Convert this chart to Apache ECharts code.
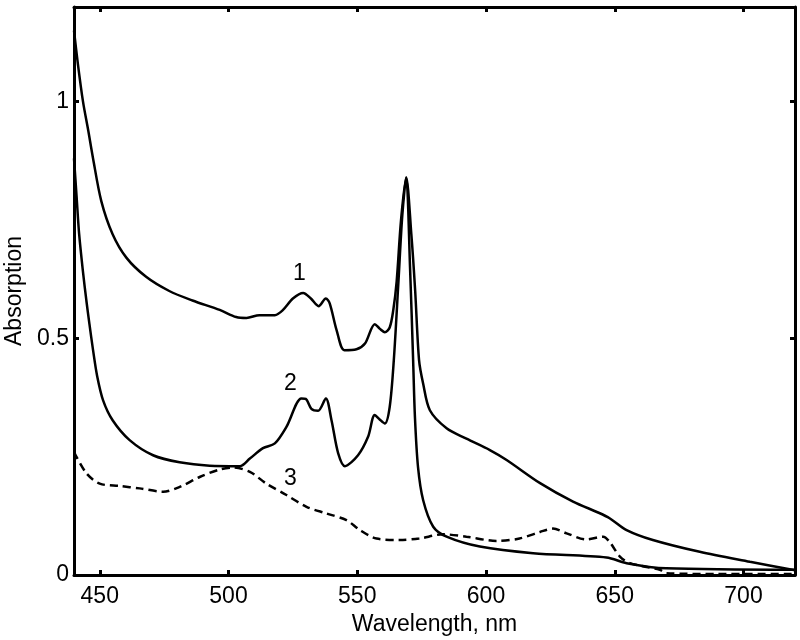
<!DOCTYPE html>
<html>
<head>
<meta charset="utf-8">
<script src="https://cdn.jsdelivr.net/npm/echarts@6/dist/echarts.min.js"></script>
<style>html,body{margin:0;padding:0;background:#fff;}#c{width:800px;height:640px;}</style>
</head>
<body>
<div id="c"></div>
<script>
// Curve 1 (upper solid)
const curve1X = [440,441.5,443.5,445.5,447.4,450.6,455,460.4,468,477,486,496.6,503,507,512,518,521,525,529,532,535,537.8,539.3,542,545,549.7,553,556.8,558.8,560.7,562.6,564,565.3,567,569,571,572.5,574,575.6,578.2,584.7,592.4,601.5,608,621,633.8,644,648,654.6,664.8,683,702.5,720];
const curve1Y = [1.15,1.08,1.0,0.94,0.88,0.79,0.72,0.67,0.63,0.60,0.58,0.56,0.545,0.543,0.549,0.549,0.559,0.584,0.596,0.584,0.568,0.584,0.574,0.517,0.475,0.477,0.489,0.53,0.52,0.513,0.523,0.56,0.62,0.75,0.84,0.72,0.60,0.454,0.404,0.348,0.31,0.288,0.264,0.243,0.194,0.155,0.131,0.12,0.095,0.074,0.049,0.028,0.01];
// Curve 2 (lower solid)
const curve2X = [440,441,442,443.5,444.8,446,447.4,449,451.3,455,461.6,470.7,481,492.7,504.4,508.3,513.4,518,522.5,528.3,530,532.2,534.8,537.8,540,542.6,545.2,550.3,554.2,556.8,558.8,560.7,562.6,564.2,566,567.5,569,570.5,571.7,572.4,573.6,575.6,579.5,584.7,597.6,618.3,646.8,654.6,670,720];
const curve2Y = [0.88,0.80,0.72,0.64,0.58,0.53,0.475,0.42,0.369,0.327,0.285,0.253,0.238,0.231,0.230,0.246,0.268,0.278,0.313,0.373,0.372,0.351,0.347,0.373,0.327,0.257,0.23,0.253,0.292,0.338,0.328,0.32,0.355,0.454,0.62,0.76,0.84,0.65,0.454,0.334,0.228,0.158,0.102,0.081,0.06,0.046,0.037,0.025,0.014,0.011];
// Curve 3 (dashed)
const curve3X = [440,444.8,450,457.8,465.5,474.6,481,488.8,496.6,501.8,508.3,514.7,522.5,530.3,538,545.8,551,557.5,566.5,574,583.4,592.4,604,613,621,626,631.3,639,645.5,648,652,655.9,667.5,670,690,720];
const curve3Y = [0.26,0.215,0.193,0.188,0.183,0.176,0.186,0.207,0.223,0.227,0.218,0.193,0.169,0.144,0.13,0.116,0.095,0.077,0.074,0.077,0.086,0.081,0.072,0.077,0.091,0.098,0.088,0.075,0.081,0.07,0.039,0.025,0.011,0.004,0.002,0.002];
// Tick values
const xTicks = [450,500,550,600,650,700];
const yTicks = [0,0.5,1];
// Curve labels
const curveLabels = ['1','2','3'];
const labelX = [527.5,524,524];
const labelY = [0.636,0.404,0.204];

const pairs = (xs, ys) => xs.map((x, i) => [x, ys[i]]);
const FONT = 'Liberation Sans, Arial, Helvetica, sans-serif';
const ink = '#000';

const baseX = {
  type: 'value', min: 440, max: 720,
  axisLine: {show: true, onZero: false, lineStyle: {color: ink, width: 3}},
  axisTick: {show: true, inside: true, length: 5, lineStyle: {color: ink, width: 3}, customValues: xTicks},
  splitLine: {show: false}
};
const baseY = {
  type: 'value', min: 0, max: 1.2,
  axisLine: {show: true, onZero: false, lineStyle: {color: ink, width: 3}},
  axisTick: {show: true, inside: true, length: 5, lineStyle: {color: ink, width: 3}, customValues: yTicks},
  splitLine: {show: false}
};

const chart = echarts.init(document.getElementById('c'), null, {renderer: 'canvas'});
chart.setOption({
  animation: false,
  backgroundColor: '#fff',
  grid: {left: 74, right: 5, top: 7, bottom: 65, containLabel: false, outerBoundsMode: 'none'},
  xAxis: [
    Object.assign({}, baseX, {
      position: 'bottom',
      name: 'Wavelength, nm', nameLocation: 'middle', nameGap: 30,
      nameTextStyle: {fontFamily: FONT, fontSize: 23, color: ink},
      axisLabel: {show: true, customValues: xTicks, margin: 10, fontFamily: FONT, fontSize: 23, color: ink}
    }),
    Object.assign({}, baseX, {position: 'top', axisLabel: {show: false}})
  ],
  yAxis: [
    Object.assign({}, baseY, {
      position: 'left',
      name: 'Absorption', nameLocation: 'middle', nameGap: 47,
      nameTextStyle: {fontFamily: FONT, fontSize: 23, color: ink},
      axisLabel: {show: true, customValues: yTicks, margin: 5, fontFamily: FONT, fontSize: 23, color: ink,
        formatter: v => String(v)}
    }),
    Object.assign({}, baseY, {position: 'right', axisLabel: {show: false}})
  ],
  series: [
    {type: 'line', data: pairs(curve1X, curve1Y), showSymbol: false, smooth: 0.3,
      lineStyle: {color: ink, width: 2.5}, z: 3},
    {type: 'line', data: pairs(curve2X, curve2Y), showSymbol: false, smooth: 0.3,
      lineStyle: {color: ink, width: 2.5}, z: 3},
    {type: 'line', data: pairs(curve3X, curve3Y), showSymbol: false, smooth: 0.3,
      lineStyle: {color: ink, width: 2.5, type: [8, 5]}, z: 3},
    {type: 'scatter', symbolSize: 0, silent: true, itemStyle: {opacity: 1},
      data: curveLabels.map((t, i) => ({value: [labelX[i], labelY[i]], name: t})),
      label: {show: true, position: 'inside', opacity: 1, formatter: p => p.name, fontFamily: FONT, fontSize: 23, color: ink}}
  ]
});
</script>
</body>
</html>
